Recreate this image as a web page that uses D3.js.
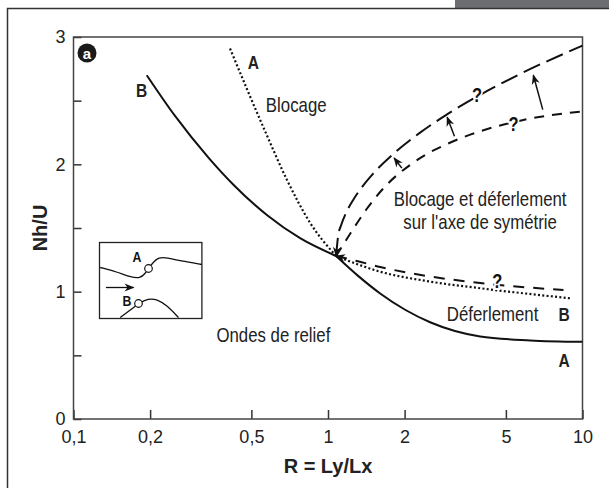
<!DOCTYPE html>
<html>
<head>
<meta charset="utf-8">
<script src="https://cdn.jsdelivr.net/npm/d3@7"></script>
<style>
  body { margin: 0; background: #fff; }
  svg { display: block; }
</style>
</head>
<body>
<div id="container"></div>
<script>
// axis ticks
const xTicks = [0.1, 0.2, 0.5, 1, 2, 5, 10]
const xTickLabels = ["0,1", "0,2", "0,5", "1", "2", "5", "10"]
const yTicks = [0, 0.5, 1, 1.5, 2, 2.5, 3]
const yTickLabels = ["0", "", "1", "", "2", "", "3"]

// curves as [R, Nh/U]; they meet at R ~ 1.08
const solidLeft = [[0.194, 2.70], [0.2506, 2.38], [0.339, 2.053], [0.425, 1.84], [0.577, 1.60], [0.777, 1.42], [1.076, 1.28]]
const solidRight = [[1.076, 1.28], [1.313, 1.124], [1.603, 0.986], [2.009, 0.858], [2.519, 0.76], [3.154, 0.691], [3.962, 0.648], [6.229, 0.617], [10, 0.606]]
const dottedLeft = [[0.412, 2.91], [0.566, 2.26], [0.689, 1.88], [0.851, 1.54], [1.076, 1.28]]
const dottedRight = [[1.076, 1.28], [1.603, 1.157], [2.519, 1.079], [3.962, 1.027], [8.95, 0.948]]
const longDash = [[1.076, 1.28], [1.096, 1.437], [1.126, 1.522], [1.178, 1.62], [1.259, 1.724], [1.374, 1.833], [1.508, 1.929], [1.807, 2.082], [2.301, 2.249], [2.886, 2.383], [3.728, 2.516], [5.69, 2.71], [10, 2.932]]
const shortDash = [[1.076, 1.28], [1.222, 1.455], [1.421, 1.651], [1.702, 1.84], [2.102, 1.995], [2.446, 2.081], [2.931, 2.159], [3.62, 2.233], [5.69, 2.343], [10, 2.416]]
const lowDash = [[1.076, 1.28], [1.298, 1.241], [1.603, 1.194], [2.519, 1.119], [3.962, 1.068], [8.42, 1.013]]

// arrows between the upper curves: [tail, tip]
const arrows = [
    [[1.95, 1.97], [1.82, 2.05]],
    [[3.14, 2.22], [2.94, 2.37]],
    [[6.98, 2.43], [6.41, 2.70]],
]

const questionMarks = [[3.85, 2.545], [5.36, 2.32], [4.62, 1.08]]

// text annotations: [text, R, Nh/U (baseline), anchor, bold]
const labels = [
    ["B", 0.185, 2.53, "middle", true],
    ["A", 0.509, 2.75, "middle", true],
    ["Blocage", 0.57, 2.41, "start", false],
    ["Blocage et déferlement", 3.96, 1.67, "middle", false],
    ["sur l'axe de symétrie", 3.96, 1.49, "middle", false],
    ["Déferlement", 2.93, 0.77, "start", false],
    ["B", 8.47, 0.77, "middle", true],
    ["A", 8.47, 0.41, "middle", true],
    ["Ondes de relief", 0.61, 0.605, "middle", false],
]

// inset sketch in its own 0..102 x 0..76 box
const insetUpper = [[0.7, 25], [17.4, 29.4], [30.7, 34.4], [40.7, 36], [45.7, 31], [49, 26], [54, 19.4], [59, 15], [67.4, 15], [80.7, 18.4], [102.4, 22]]
const insetLower = [[20.7, 75], [30.7, 67.7], [39, 61], [49, 56], [57.4, 56.7], [67.4, 62.7], [79, 75]]
const insetCircles = [[49, 26], [39, 61]]
const insetLabels = [["A", 37.4, 19], ["B", 27.4, 63.5]]
const insetArrow = [[6.4, 45], [34, 45]]

const width = 609
const height = 488
const margin = { left: 73.5, right: 26.5, top: 37, bottom: 69 }
const squeeze = 0.82 // condensed lettering of the annotations

const svg = d3.select("#container").append("svg")
    .attr("width", width)
    .attr("height", height)

const x = d3.scaleLog().domain([0.1, 10]).range([margin.left, width - margin.right])
const y = d3.scaleLinear().domain([0, 3]).range([height - margin.bottom, margin.top])

// outer frame + grey tab
svg.append("rect").attr("x", 455).attr("y", 0).attr("width", 154).attr("height", 8).attr("fill", "#6d6e71")
svg.append("path").attr("d", `M7.5,${height} V8.5 H${width}`)
    .attr("fill", "none").attr("stroke", "#333").attr("stroke-width", 1.5)

const defs = svg.append("defs")
defs.append("marker")
    .attr("id", "head")
    .attr("viewBox", "-10 -5 12 10")
    .attr("refX", 0).attr("refY", 0)
    .attr("markerWidth", 12).attr("markerHeight", 10)
    .attr("markerUnits", "userSpaceOnUse")
    .attr("orient", "auto-start-reverse")
    .append("path")
    .attr("d", "M1,0 L-9,-4 L-6,0 L-9,4 Z")
    .attr("fill", "#111")

// axes, ticks pointing inward
svg.append("g")
    .attr("transform", `translate(0,${y(0)})`)
    .call(d3.axisBottom(x).tickValues(xTicks).tickSize(-9).tickPadding(11)
        .tickFormat((d, i) => xTickLabels[i]))
svg.append("g")
    .attr("transform", `translate(${x(0.1)},0)`)
    .call(d3.axisLeft(y).tickValues(yTicks).tickSize(-8).tickPadding(8)
        .tickFormat((d, i) => yTickLabels[i]))
svg.selectAll(".domain").remove()
svg.selectAll(".tick line").attr("stroke", "#333").attr("stroke-width", 1.5)
svg.selectAll(".tick text")
    .attr("font-family", "Liberation Sans, Arial, sans-serif")
    .attr("font-size", 18)
    .attr("fill", "#222")

svg.append("rect")
    .attr("x", x(0.1)).attr("y", y(3))
    .attr("width", x(10) - x(0.1)).attr("height", y(0) - y(3))
    .attr("fill", "none").attr("stroke", "#444").attr("stroke-width", 1.5)

svg.append("text")
    .attr("x", (x(0.1) + x(10)) / 2).attr("y", 473)
    .attr("text-anchor", "middle")
    .attr("font-family", "Liberation Sans, Arial, sans-serif")
    .attr("font-weight", "bold").attr("font-size", 20).attr("fill", "#222")
    .text("R = Ly/Lx")
svg.append("text")
    .attr("transform", `translate(47,${(y(0) + y(3)) / 2}) rotate(-90)`)
    .attr("text-anchor", "middle")
    .attr("font-family", "Liberation Sans, Arial, sans-serif")
    .attr("font-weight", "bold").attr("font-size", 20).attr("fill", "#222")
    .text("Nh/U")

// badge "a"
svg.append("circle").attr("cx", 87).attr("cy", 53).attr("r", 9.5).attr("fill", "#1a1a1a")
svg.append("text").attr("x", 87).attr("y", 58.5).attr("text-anchor", "middle")
    .attr("font-family", "Liberation Sans, Arial, sans-serif")
    .attr("font-weight", "bold").attr("font-size", 15).attr("fill", "#fff").text("a")

const line = d3.line().x((d) => x(d[0])).y((d) => y(d[1])).curve(d3.curveMonotoneX)

const curves = svg.append("g").attr("fill", "none").attr("stroke", "#111")
curves.selectAll(".solid").data([solidLeft, solidRight]).join("path")
    .attr("class", "solid").attr("d", line).attr("stroke-width", 2)
curves.selectAll(".dotted").data([dottedLeft, dottedRight]).join("path")
    .attr("class", "dotted").attr("d", line).attr("stroke-width", 2.2).attr("stroke-dasharray", "2,2.3")
curves.append("path").datum(longDash).attr("d", line).attr("stroke-width", 2).attr("stroke-dasharray", "18,7")
    .attr("marker-start", "url(#head)")
curves.append("path").datum(shortDash).attr("d", line).attr("stroke-width", 2).attr("stroke-dasharray", "10,8")
curves.append("path").datum(lowDash).attr("d", line).attr("stroke-width", 2).attr("stroke-dasharray", "11,9")
    .attr("marker-start", "url(#head)")

curves.selectAll(".arrow").data(arrows).join("line")
    .attr("class", "arrow")
    .attr("x1", (d) => x(d[0][0])).attr("y1", (d) => y(d[0][1]))
    .attr("x2", (d) => x(d[1][0])).attr("y2", (d) => y(d[1][1]))
    .attr("stroke-width", 1.5)
    .attr("marker-end", "url(#head)")

const narrowFont = "Liberation Sans, Arial, sans-serif"

svg.selectAll(".qm").data(questionMarks).join("text")
    .attr("class", "qm")
    .attr("transform", (d) => `translate(${x(d[0])},${y(d[1]) + 7}) scale(${squeeze},1)`)
    .attr("text-anchor", "middle")
    .attr("font-family", narrowFont)
    .attr("font-weight", "bold").attr("font-size", 20).attr("fill", "#111")
    .attr("stroke", "#fff").attr("stroke-width", 4).attr("paint-order", "stroke")
    .text("?")

svg.selectAll(".lab").data(labels).join("text")
    .attr("class", "lab")
    .attr("transform", (d) => `translate(${x(d[1])},${y(d[2])}) scale(${squeeze},1)`)
    .attr("text-anchor", (d) => d[3])
    .attr("font-family", narrowFont)
    .attr("font-weight", (d) => d[4] ? "bold" : "normal")
    .attr("font-size", (d) => d[4] ? 19 : 20.5)
    .attr("fill", "#222")
    .text((d) => d[0])

// inset
const ix = d3.scaleLinear().domain([0, 102.4]).range([99.5, 201.9])
const iy = d3.scaleLinear().domain([0, 76]).range([242.5, 318.5])
const inset = svg.append("g")
inset.append("rect").attr("x", ix(0)).attr("y", iy(0)).attr("width", ix(102.4) - ix(0)).attr("height", iy(76) - iy(0))
    .attr("fill", "#fff").attr("stroke", "#222").attr("stroke-width", 1.3)
const iline = d3.line().x((d) => ix(d[0])).y((d) => iy(d[1])).curve(d3.curveBasis)
inset.selectAll(".wave").data([insetUpper, insetLower]).join("path")
    .attr("class", "wave").attr("d", iline)
    .attr("fill", "none").attr("stroke", "#111").attr("stroke-width", 1.3)
inset.selectAll("circle").data(insetCircles).join("circle")
    .attr("cx", (d) => ix(d[0])).attr("cy", (d) => iy(d[1])).attr("r", 3.8)
    .attr("fill", "#fff").attr("stroke", "#111").attr("stroke-width", 1.2)
inset.append("line")
    .attr("x1", ix(insetArrow[0][0])).attr("y1", iy(insetArrow[0][1]))
    .attr("x2", ix(insetArrow[1][0])).attr("y2", iy(insetArrow[1][1]))
    .attr("stroke", "#111").attr("stroke-width", 1.3).attr("marker-end", "url(#head)")
inset.selectAll("text").data(insetLabels).join("text")
    .attr("transform", (d) => `translate(${ix(d[1])},${iy(d[2])}) scale(${squeeze},1)`)
    .attr("text-anchor", "middle")
    .attr("font-family", narrowFont)
    .attr("font-weight", "bold").attr("font-size", 15).attr("fill", "#111")
    .text((d) => d[0])
</script>
</body>
</html>
